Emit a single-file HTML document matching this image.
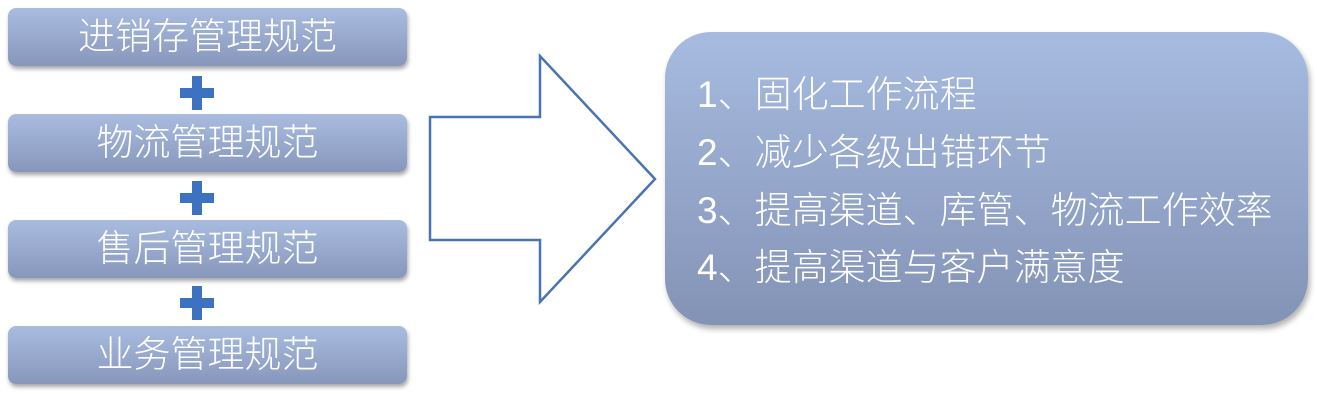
<!DOCTYPE html>
<html><head><meta charset="utf-8"><style>
body{margin:0;width:1317px;height:411px;background:#fff;position:relative;overflow:hidden;font-family:"Liberation Sans","Noto Sans CJK SC",sans-serif;font-weight:300;}
.b{position:absolute;left:8px;width:399px;height:58px;border-radius:8px;background:linear-gradient(#a9bce0,#8797bb);box-shadow:1px 3px 4px rgba(0,0,0,0.35);color:#fff;font-size:37px;text-align:center;line-height:58px;}
.p{position:absolute;left:180px;width:34px;height:34px;}
.p:before{content:"";position:absolute;left:12px;top:0;width:10px;height:34px;background:#3d72c0;}
.p:after{content:"";position:absolute;left:0;top:12px;width:34px;height:10px;background:#3d72c0;}
.r{position:absolute;left:665px;top:32px;width:643px;height:293px;border-radius:46px;background:linear-gradient(#a7bbe0,#8393b6);box-shadow:2px 4px 6px rgba(0,0,0,0.3);color:#fff;font-size:37px;}
.r div{position:absolute;left:32px;line-height:44px;}
</style></head><body>
<div class="b" style="top:8px">进销存管理规范</div>
<div class="p" style="top:76px"></div>
<div class="b" style="top:114px">物流管理规范</div>
<div class="p" style="top:181px"></div>
<div class="b" style="top:220px">售后管理规范</div>
<div class="p" style="top:286px"></div>
<div class="b" style="top:326px">业务管理规范</div>
<svg style="position:absolute;left:0;top:0" width="1317" height="411"><polygon points="430,117 540,117 540,56 655,179 540,302 540,240 430,240" fill="#fff" stroke="#4a74b0" stroke-width="2.5"/></svg>
<div class="r">
<div style="top:41px">1、固化工作流程</div>
<div style="top:99px">2、减少各级出错环节</div>
<div style="top:157px">3、提高渠道、库管、物流工作效率</div>
<div style="top:214px">4、提高渠道与客户满意度</div>
</div>
</body></html>
